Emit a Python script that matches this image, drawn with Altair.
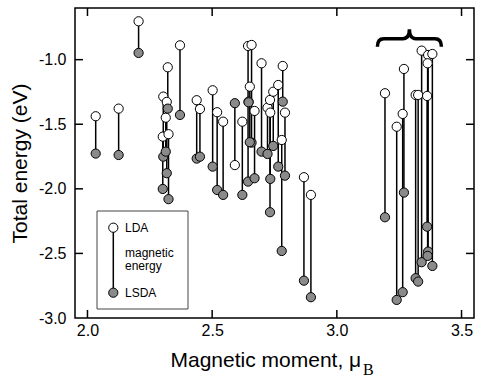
import altair as alt
import pandas as pd

# magnetic moment (mu_B), LDA energy and LSDA energy (eV)
moment = [2.033, 2.125, 2.205,
          2.304, 2.302, 2.314, 2.322, 2.318, 2.325,
          2.371, 2.438, 2.451, 2.502, 2.520, 2.544, 2.591, 2.621,
          2.644, 2.658, 2.651, 2.646, 2.670, 2.698, 2.722, 2.732, 2.733,
          2.745, 2.765, 2.779, 2.783, 2.792, 2.868, 2.896,
          3.193, 3.240, 3.269, 3.264, 3.316, 3.326, 3.340, 3.362, 3.366, 3.364, 3.383]
e_lda = [-1.438, -1.379, -0.703,
         -1.286, -1.596, -1.449, -1.059, -1.327, -1.577,
         -0.889, -1.314, -1.382, -1.237, -1.407, -1.480, -1.816, -1.480,
         -0.894, -0.886, -1.209, -1.325, -1.397, -1.028, -1.372, -1.312, -1.410,
         -1.248, -1.196, -1.622, -1.049, -1.410, -1.910, -2.047,
         -1.260, -1.519, -1.072, -1.420, -1.273, -1.273, -0.930, -1.281, -0.964, -1.028, -0.956]
e_lsda = [-1.727, -1.738, -0.948,
          -1.751, -2.001, -1.712, -1.379, -1.879, -2.080,
          -1.428, -1.766, -1.751, -1.828, -2.009, -2.047, -1.337, -2.047,
          -1.944, -1.642, -1.639, -1.330, -1.918, -1.712, -1.730, -2.181, -1.923,
          -1.668, -1.828, -2.481, -1.325, -1.898, -2.711, -2.839,
          -2.220, -2.860, -2.029, -2.800, -2.692, -2.718, -2.568, -2.293, -2.486, -2.519, -2.597]

x_ticks = [2.0, 2.5, 3.0, 3.5]
y_ticks = [-3.0, -2.5, -2.0, -1.5, -1.0]

W, H = 399, 310
FONT = "Liberation Sans"
XDOM = [1.95, 3.55]
YDOM = [-3.0, -0.6]

df = pd.DataFrame({"m": moment, "lda": e_lda, "lsda": e_lsda})
xt = pd.DataFrame({"tx": x_ticks})
yt = pd.DataFrame({"ty": y_ticks[1:]})
one = pd.DataFrame({"a": [0]})

xscale = alt.Scale(domain=XDOM, nice=False, zero=False)
yscale = alt.Scale(domain=YDOM, nice=False, zero=False)

lab_expr = "(datum.value < 0 ? '-' : '') + format(abs(datum.value), '.1f')"

xaxis = alt.Axis(values=x_ticks, ticks=False, tickSize=0, domain=False, grid=False,
                 labelExpr=lab_expr, labelFont=FONT, labelFontSize=16, labelColor="black",
                 labelPadding=4,
                 title="Magnetic moment, μ", titleFont=FONT, titleFontSize=21,
                 titleFontWeight="normal", titleColor="black", titleX=95, titleY=48.7,
                 titleAlign="left", titleBaseline="alphabetic")
yaxis = alt.Axis(values=y_ticks, ticks=False, tickSize=0, domain=False, grid=False,
                 labelExpr=lab_expr, labelFont=FONT, labelFontSize=16, labelColor="black",
                 labelPadding=9,
                 title="Total energy (eV)", titleFont=FONT, titleFontSize=21,
                 titleFontWeight="normal", titleColor="black", titleX=-48.3, titleY=155,
                 titleAngle=270, titleAlign="center", titleBaseline="alphabetic")

TL = 8
TC = "black"
tick_b = alt.Chart(xt).mark_rule(color=TC, strokeWidth=1.5).encode(
    x=alt.X("tx:Q", scale=xscale, axis=xaxis), y=alt.value(H), y2=alt.value(H - TL))
tick_t = alt.Chart(xt).mark_rule(color=TC, strokeWidth=1.5).encode(
    x=alt.X("tx:Q", scale=xscale), y=alt.value(0), y2=alt.value(TL))
tick_l = alt.Chart(yt).mark_rule(color=TC, strokeWidth=1.5).encode(
    y=alt.Y("ty:Q", scale=yscale, axis=yaxis), x=alt.value(0), x2=alt.value(TL))
tick_r = alt.Chart(yt).mark_rule(color=TC, strokeWidth=1.5).encode(
    y=alt.Y("ty:Q", scale=yscale), x=alt.value(W), x2=alt.value(W - TL))

base = alt.Chart(df)
rules = base.mark_rule(color="black", strokeWidth=1.5).encode(
    x=alt.X("m:Q", scale=xscale),
    y=alt.Y("lda:Q", scale=yscale),
    y2="lsda:Q",
)
lda_pts = base.mark_point(shape="circle", filled=True, fill="white", stroke="black",
                          strokeWidth=1, size=85, opacity=1).encode(
    x=alt.X("m:Q", scale=xscale), y=alt.Y("lda:Q", scale=yscale))
lsda_pts = base.mark_point(shape="circle", filled=True, fill="#8a8a8a", stroke="black",
                           strokeWidth=1, size=85, opacity=1).encode(
    x=alt.X("m:Q", scale=xscale), y=alt.Y("lsda:Q", scale=yscale))

# subscript B of mu_B
sub_b = alt.Chart(one).mark_text(text="B", font="Liberation Serif", fontSize=16,
                                 align="left", baseline="alphabetic", color="black").encode(
    x=alt.value(288), y=alt.value(367))

# curly brace annotation over the high-moment group
brace_path = ("M -1 0.27 Q -1 0.02 -0.8 0.02 L -0.2 0.02 Q 0 0.02 0 -0.27 "
              "Q 0 0.02 0.2 0.02 L 0.8 0.02 Q 1 0.02 1 0.27")
brace = alt.Chart(one).mark_point(shape=brace_path, filled=False, stroke="black",
                                  strokeWidth=3.5, size=64 * 64, opacity=1).encode(
    x=alt.value(409.4 - 75), y=alt.value(38 - 8))

# legend box
leg_box = alt.Chart(one).mark_rect(fill="white", stroke="#444444", strokeWidth=1).encode(
    x=alt.value(22), x2=alt.value(113), y=alt.value(203), y2=alt.value(301))
leg_rule = alt.Chart(one).mark_rule(color="black", strokeWidth=1.5).encode(
    x=alt.value(38.3), y=alt.value(219.7), y2=alt.value(284.7))
leg_o = alt.Chart(one).mark_point(shape="circle", filled=True, fill="white", stroke="black",
                                  strokeWidth=1, size=85, opacity=1).encode(
    x=alt.value(38.3), y=alt.value(219.7))
leg_f = alt.Chart(one).mark_point(shape="circle", filled=True, fill="#8a8a8a", stroke="black",
                                  strokeWidth=1, size=85, opacity=1).encode(
    x=alt.value(38.3), y=alt.value(284.7))

def leg_text(t, y):
    return alt.Chart(one).mark_text(text=t, font=FONT, fontSize=12, align="left",
                                    baseline="middle", color="black").encode(
        x=alt.value(50), y=alt.value(y))

chart = alt.layer(
    tick_b, tick_l, tick_t, tick_r, rules, lda_pts, lsda_pts, sub_b, brace,
    leg_box, leg_rule, leg_o, leg_f,
    leg_text("LDA", 219.7), leg_text("magnetic", 244.7), leg_text("energy", 258),
    leg_text("LSDA", 284.7),
).properties(
    width=W, height=H,
    autosize=alt.AutoSizeParams(type="none"),
    padding={"left": 75, "top": 8, "right": 3, "bottom": 59},
    background="white",
).configure_view(stroke="black", strokeWidth=1.5)

chart.save("out.html", embed_options={"renderer": "svg", "actions": False})
